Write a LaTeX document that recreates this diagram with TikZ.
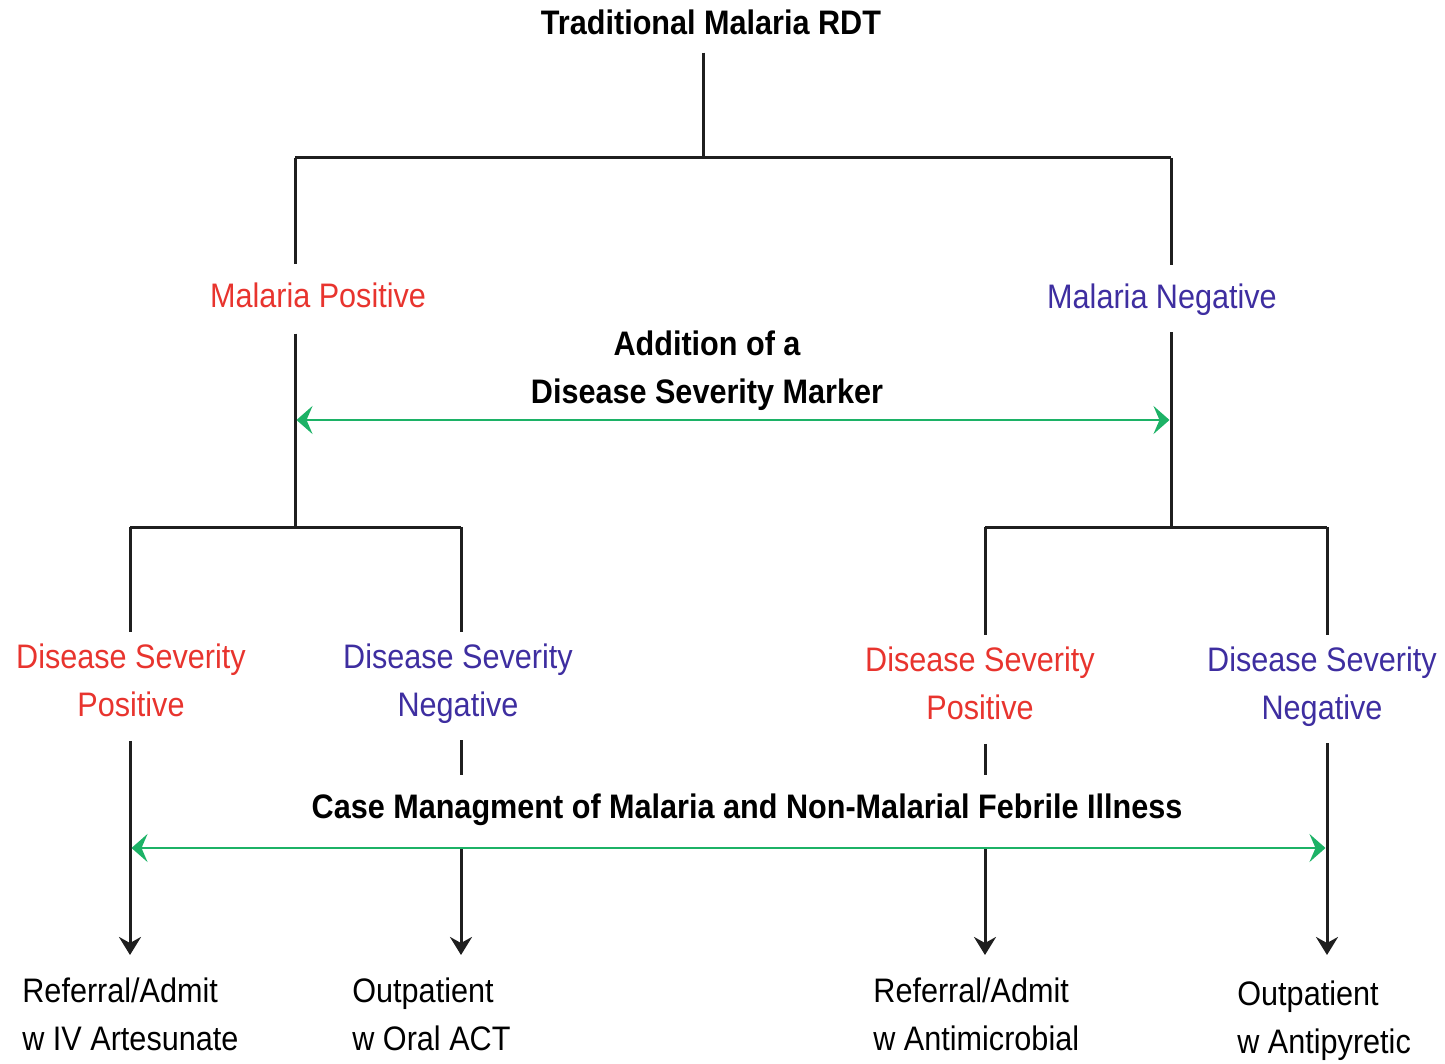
\documentclass[tikz,border=0pt]{standalone}
\usepackage{fontspec}
\setmainfont{Liberation Sans}[FakeStretch=0.9]
\usetikzlibrary{arrows.meta}
\definecolor{posred}{RGB}{232,52,46}
\definecolor{negblue}{RGB}{62,46,160}
\definecolor{arrgreen}{RGB}{28,178,102}

\begin{document}
\begin{tikzpicture}[x=.5pt,y=-.5pt,
  every node/.style={font=\fontsize{17}{24}\selectfont, inner sep=0pt},
  postext/.style={posred, align=center},
  negtext/.style={negblue, align=center},
  bold/.style={font=\fontsize{17}{24}\selectfont\bfseries, align=center},
  blk/.style={line width=1.5pt, black!88},
  tip/.style={blk, -{Stealth[length=9pt,width=11pt,inset=3pt]}},
  grn/.style={arrgreen, line width=1.4pt, {Stealth[length=8pt,width=14pt,inset=3pt]}-{Stealth[length=8pt,width=14pt,inset=3pt]}}]
\useasboundingbox (0,0) rectangle (1445,1064);

% junctions
\coordinate (top) at (703,158);
\coordinate (jl) at (295,158);
\coordinate (jr) at (1171,158);
\coordinate (bl) at (295,527);
\coordinate (br) at (1171,527);
\coordinate (l1) at (130,527);
\coordinate (l2) at (461,527);
\coordinate (r1) at (985,527);
\coordinate (r2) at (1327,527);
\coordinate (ga) at (295,420);
\coordinate (gb) at (1171,420);
\coordinate (c1) at (130,848);
\coordinate (c2) at (461,848);
\coordinate (c3) at (985,848);
\coordinate (c4) at (1327,848);
\coordinate (e1) at (130,955);
\coordinate (e2) at (461,955);
\coordinate (e3) at (985,955);
\coordinate (e4) at (1327,955);

% texts
\node[bold, anchor=base] (rdt) at (711,35) {Traditional Malaria RDT};
\node[posred, anchor=base] (mpos) at (318,307) {Malaria Positive};
\node[negblue, anchor=base] (mneg) at (1162,308) {Malaria Negative};
\node[bold, anchor=north] (marker) at (707,330) {Addition of a\\Disease Severity Marker};
\node[postext, anchor=north] (sp1) at (131,643) {Disease Severity\\Positive};
\node[negtext, anchor=north] (sn1) at (458,643) {Disease Severity\\Negative};
\node[postext, anchor=north] (sp2) at (980,646) {Disease Severity\\Positive};
\node[negtext, anchor=north] (sn2) at (1322,646) {Disease Severity\\Negative};
\node[bold, anchor=base] (case) at (747,818) {Case Managment of Malaria and Non-Malarial Febrile Illness};
\node[align=left, anchor=north west] (out1) at (22,977) {Referral/Admit\\w IV Artesunate};
\node[align=left, anchor=north west] (out2) at (352,977) {Outpatient\\w Oral ACT};
\node[align=left, anchor=north west] (out3) at (873,977) {Referral/Admit\\w Antimicrobial};
\node[align=left, anchor=north west] (out4) at (1237,980) {Outpatient\\w Antipyretic};

% upper tree
\draw[blk, shorten <=8.5pt] (top |- rdt.south) -- (top);
\draw[blk] (jl) -- (jr);
\draw[blk, shorten >=9pt] (jl) -- (jl |- mpos.north);
\draw[blk, shorten >=9pt] (jr) -- (jr |- mneg.north);
\draw[blk, shorten <=13pt] (jl |- mpos.south) -- (bl);
\draw[blk, shorten <=8.5pt] (jr |- mneg.south) -- (br);
\draw[grn, shorten <=.75pt, shorten >=.75pt] (ga) -- (gb);

% lower tree
\draw[blk] (l1) -- (l2);
\draw[blk] (r1) -- (r2);
\draw[blk, shorten >=5.5pt] (l1) -- (l1 |- sp1.north);
\draw[blk, shorten >=5.5pt] (l2) -- (l2 |- sn1.north);
\draw[blk, shorten >=5.5pt] (r1) -- (r1 |- sp2.north);
\draw[blk, shorten >=5.5pt] (r2) -- (r2 |- sn2.north);
\draw[tip, shorten <=12pt] (l1 |- sp1.south) -- (e1);
\draw[blk, shorten <=8.5pt, shorten >=9pt] (l2 |- sn1.south) -- (l2 |- case.north);
\draw[blk, shorten <=12pt, shorten >=9pt] (r1 |- sp2.south) -- (r1 |- case.north);
\draw[tip, shorten <=8.5pt] (r2 |- sn2.south) -- (e4);
\draw[tip] (c2) -- (e2);
\draw[tip] (c3) -- (e3);
\draw[grn, shorten <=.75pt, shorten >=.75pt] (c1) -- (c4);
\end{tikzpicture}
\end{document}
